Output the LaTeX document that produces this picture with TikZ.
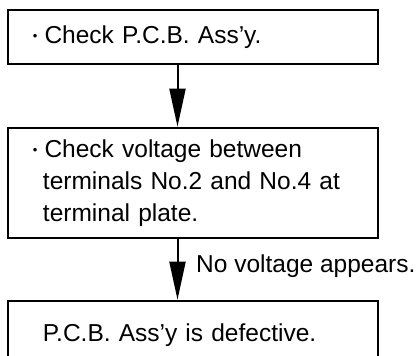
\documentclass[tikz,border=0pt]{standalone}
\usepackage{fontspec}
\setmainfont{Liberation Sans}
\usetikzlibrary{arrows.meta}
\newcommand{\bul}{\raisebox{3pt}{\fontsize{13pt}{13pt}\selectfont •}\hspace{7pt}}
\tikzset{
  box/.style={draw, line width=2.6pt, rectangle, minimum width=370pt, text width=326pt,
    inner xsep=22pt, inner ysep=0pt, align=left, anchor=center,
    font=\fontsize{24.5pt}{32pt}\selectfont},
  flow/.style={line width=2pt, -{Triangle[width=16pt,length=38pt]}},
  lbl/.style={font=\fontsize{24.5pt}{32pt}\selectfont, inner sep=0pt, anchor=base west}
}
\begin{document}
\begin{tikzpicture}[x=1pt,y=1pt]
\useasboundingbox (0,0) rectangle (416,-356);
\node[box, minimum height=54pt] (b1) at (193,-37) {\hspace*{3pt}\bul Check P.C.B. Ass'y.};
\node[box, minimum height=110pt] (b2) at (193,-183) {\hspace*{3pt}\bul Check voltage between\\\hspace*{13pt}terminals No.2 and No.4 at\\\hspace*{13pt}terminal plate.};
\node[box, minimum height=69pt] (b3) at (193,-335.5) {\hspace*{13pt}P.C.B. Ass'y is defective.};
\coordinate (ax) at (177.5,0);
\draw[flow] (b1.south -| ax) -- (b2.north -| ax);
\draw[flow] (b2.south -| ax) -- (b3.north -| ax);
\node[lbl] (l1) at (196,-272) {No voltage appears.};
\end{tikzpicture}
\end{document}
